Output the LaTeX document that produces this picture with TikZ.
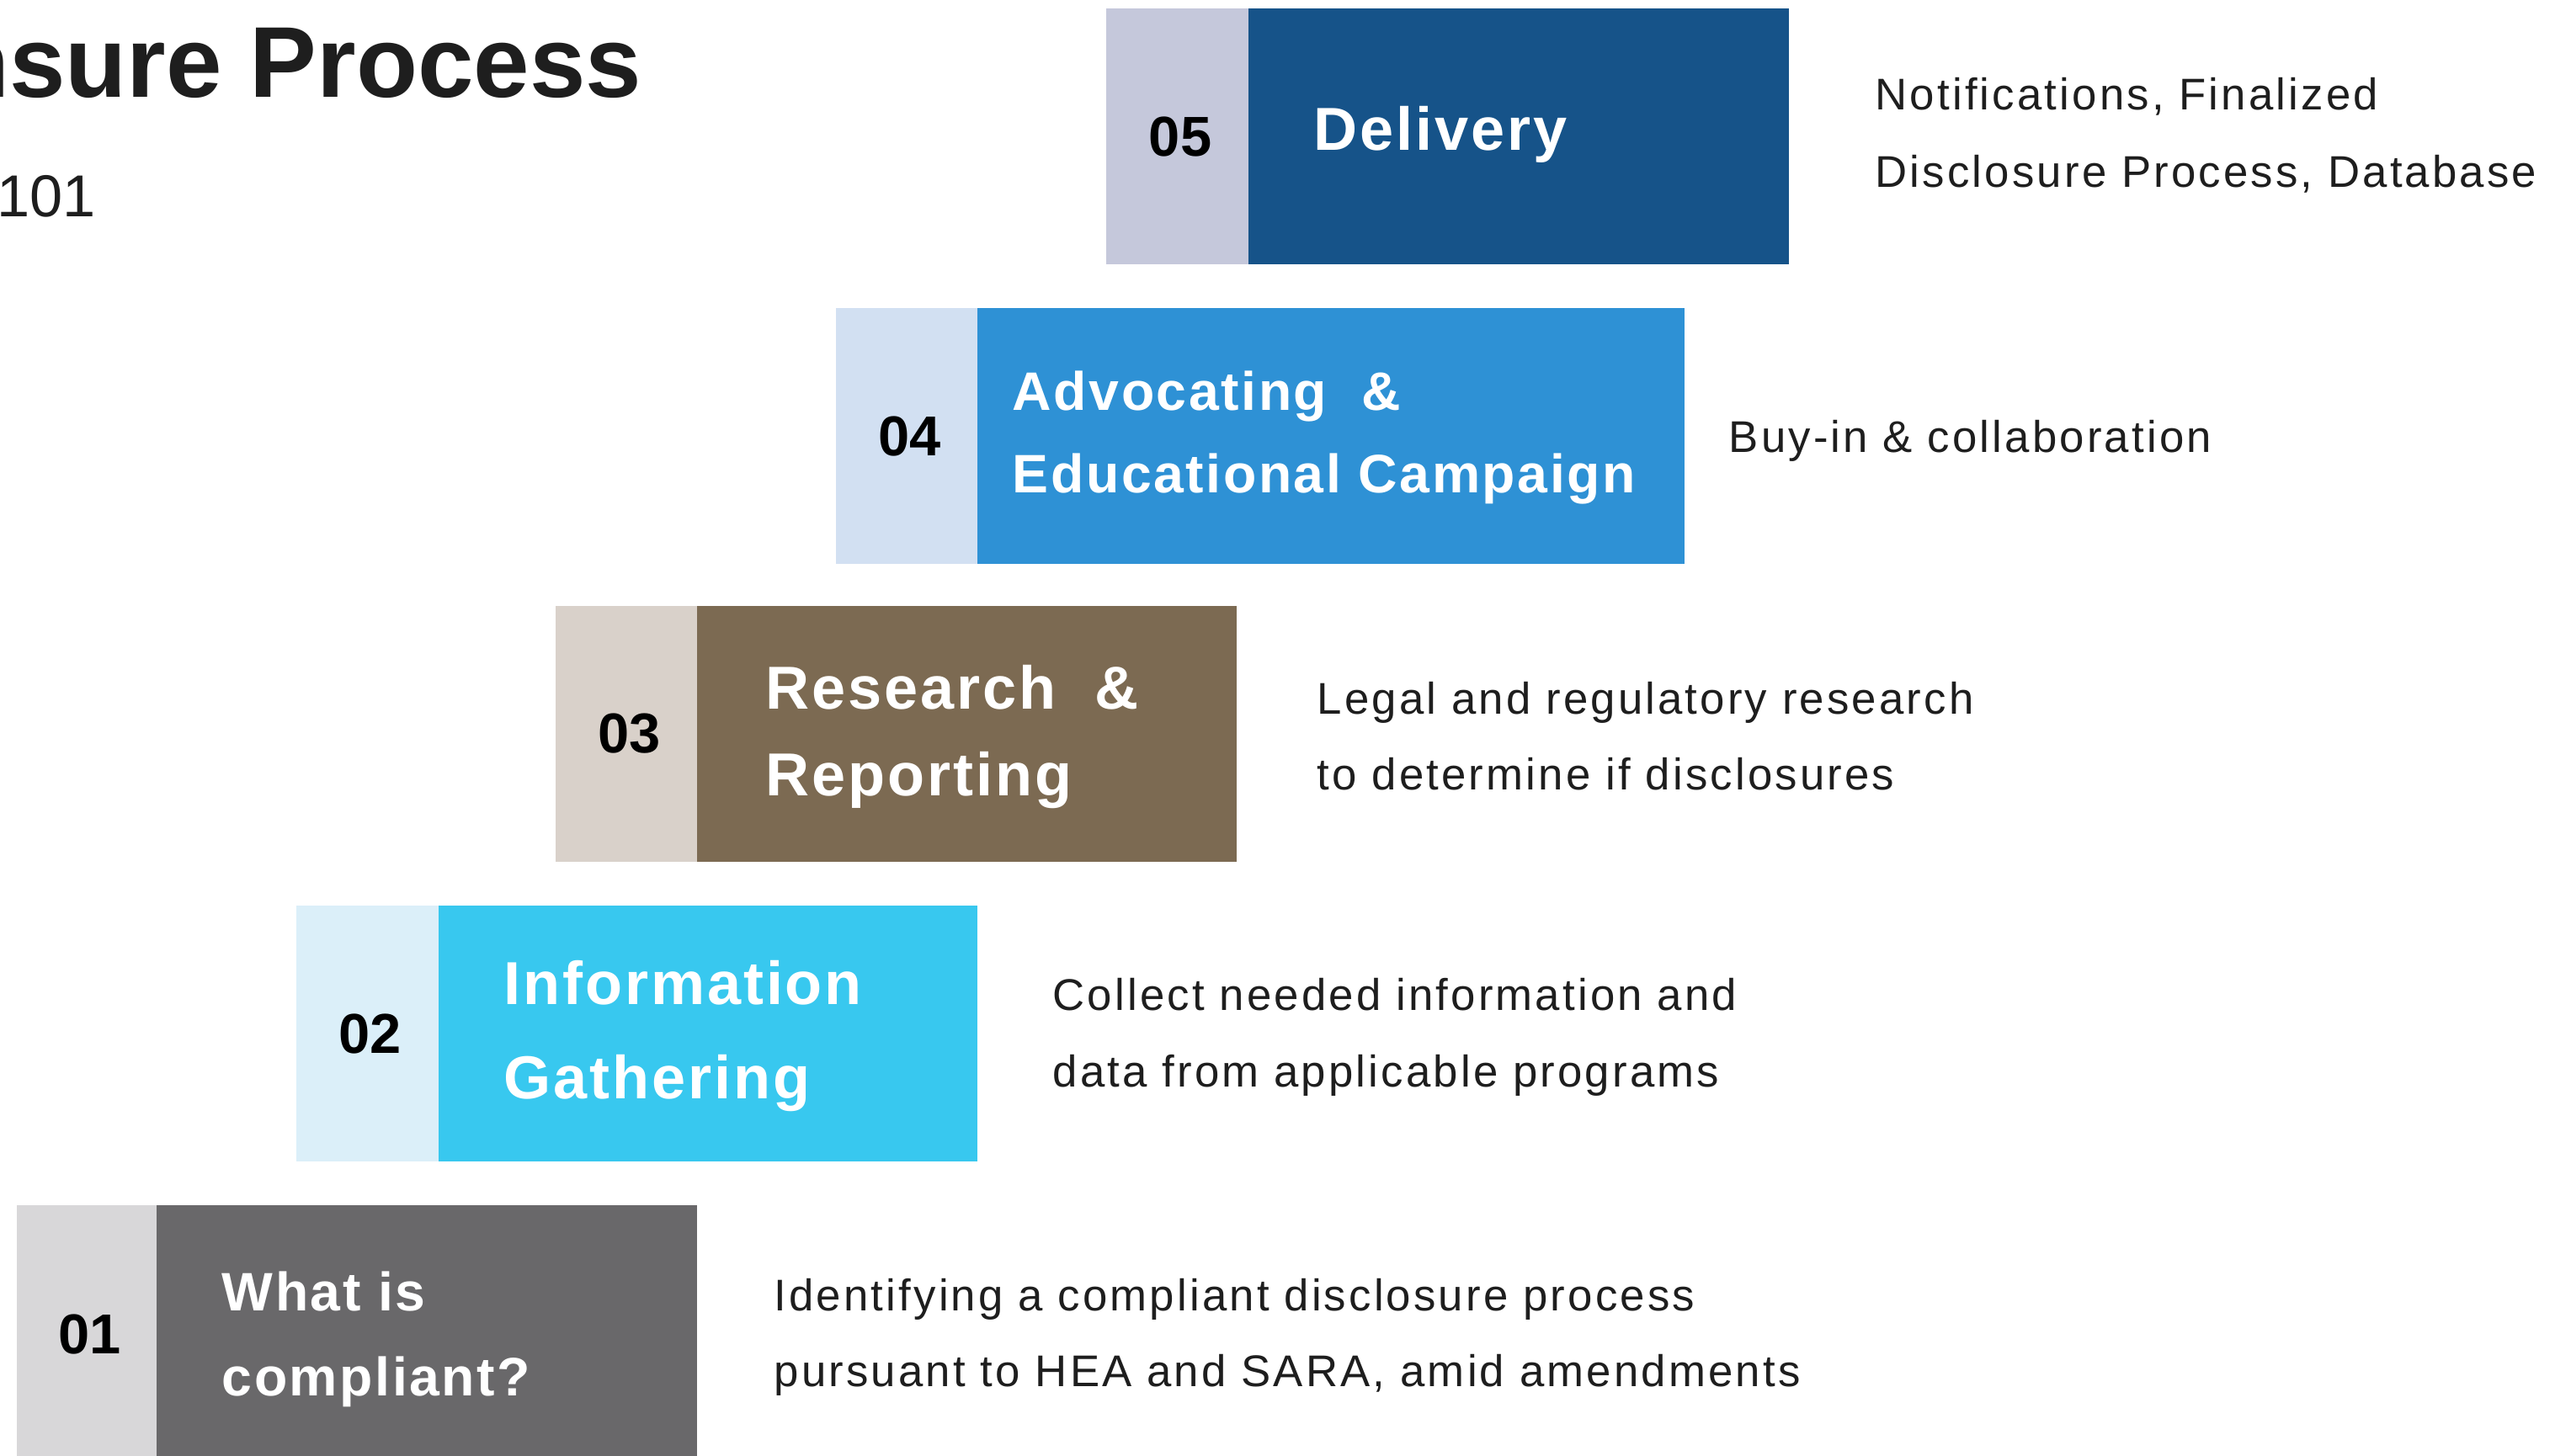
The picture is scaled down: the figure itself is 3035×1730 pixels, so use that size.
\documentclass[tikz,border=0pt]{standalone}
\usepackage{fontspec}
\setmainfont{Liberation Sans}
\newfontfamily\stepfont[LetterSpace=4]{Liberation Sans}
\newfontfamily\notefont[LetterSpace=6]{Liberation Sans}
\usepackage{xcolor}
\definecolor{ink}{HTML}{1E1E1E}
\definecolor{numfive}{HTML}{C5C8DB}
\definecolor{stepfive}{HTML}{165389}
\definecolor{numfour}{HTML}{D2E0F2}
\definecolor{stepfour}{HTML}{2E91D5}
\definecolor{numthree}{HTML}{D9D1CA}
\definecolor{stepthree}{HTML}{7C6A52}
\definecolor{numtwo}{HTML}{DBEFF9}
\definecolor{steptwo}{HTML}{38C8EF}
\definecolor{numone}{HTML}{D8D7D9}
\definecolor{stepone}{HTML}{69686A}

\begin{document}
\begin{tikzpicture}[
    x=0.01cm,y=-0.01cm,
    numtext/.style={inner sep=0pt,text=black,
        font={\fontsize{19}{21}\selectfont\bfseries}},
    steptext/.style={anchor=base west,inner sep=0pt,text=white,
        font={\stepfont\fontsize{20.5}{24}\selectfont\bfseries}},
    smallstep/.style={steptext,
        font={\stepfont\fontsize{18.3}{22}\selectfont\bfseries}},
    note/.style={anchor=base west,inner sep=0pt,text=ink,
        font={\notefont\fontsize{15}{18}\selectfont}},
    ]
    \useasboundingbox (0,0) rectangle (3035,1730);
    \clip (0,0) rectangle (3035,1730);
    % Title, cut at the left edge
    \path (763,115) node[anchor=base east,inner sep=0pt,text=ink,
            font={\fontsize{34}{40}\selectfont\bfseries}] (title) {nsure Process}
          (-4,257) node[anchor=base west,inner sep=0pt,text=ink,
            font={\fontsize{20}{24}\selectfont}] (subtitle) {101};

    % 05 Delivery
    \fill[numfive] (1314,10) rectangle (1483,314);
    \fill[stepfive] (1483,10) rectangle (2125,314);
    \node[numtext] (n5) at (1402,162) {05};
    \node[steptext] (s5) at (1560,178) {Delivery};
    \path (2227,130) node[note] (d5a) {Notifications, Finalized}
          (2227,222) node[note] (d5b) {Disclosure Process, Database};

    % 04 Advocating
    \fill[numfour] (993,366) rectangle (1161,670);
    \fill[stepfour] (1161,366) rectangle (2001,670);
    \node[numtext] (n4) at (1081,518) {04};
    \path (1202,487) node[smallstep] (s4a) {Advocating\ \ \&}
          (1202,585) node[smallstep] (s4b) {Educational Campaign};
    \node[note] (d4) at (2053,537) {Buy-in \& collaboration};

    % 03 Research
    \fill[numthree] (660,720) rectangle (828,1024);
    \fill[stepthree] (828,720) rectangle (1469,1024);
    \node[numtext] (n3) at (748,872) {03};
    \path (909,842) node[steptext] (s3a) {Research\ \ \&}
          (909,945) node[steptext] (s3b) {Reporting};
    \path (1564,848) node[note] (d3a) {Legal and regulatory research}
          (1564,938) node[note] (d3b) {to determine if disclosures};

    % 02 Information
    \fill[numtwo] (352,1076) rectangle (521,1380);
    \fill[steptwo] (521,1076) rectangle (1161,1380);
    \node[numtext] (n2) at (440,1228) {02};
    \path (598,1193) node[steptext] (s2a) {Information}
          (598,1305) node[steptext] (s2b) {Gathering};
    \path (1250,1200) node[note] (d2a) {Collect needed information and}
          (1250,1291) node[note] (d2b) {data from applicable programs};

    % 01 What is compliant
    \fill[numone] (20,1432) rectangle (186,1740);
    \fill[stepone] (186,1432) rectangle (828,1740);
    \node[numtext] (n1) at (107,1585) {01};
    \path (263,1557) node[smallstep] (s1a) {What is}
          (263,1658) node[smallstep] (s1b) {compliant?};
    \path (919,1557) node[note] (d1a) {Identifying a compliant disclosure process}
          (919,1647) node[note] (d1b) {pursuant to HEA and SARA, amid amendments};
\end{tikzpicture}
\end{document}
